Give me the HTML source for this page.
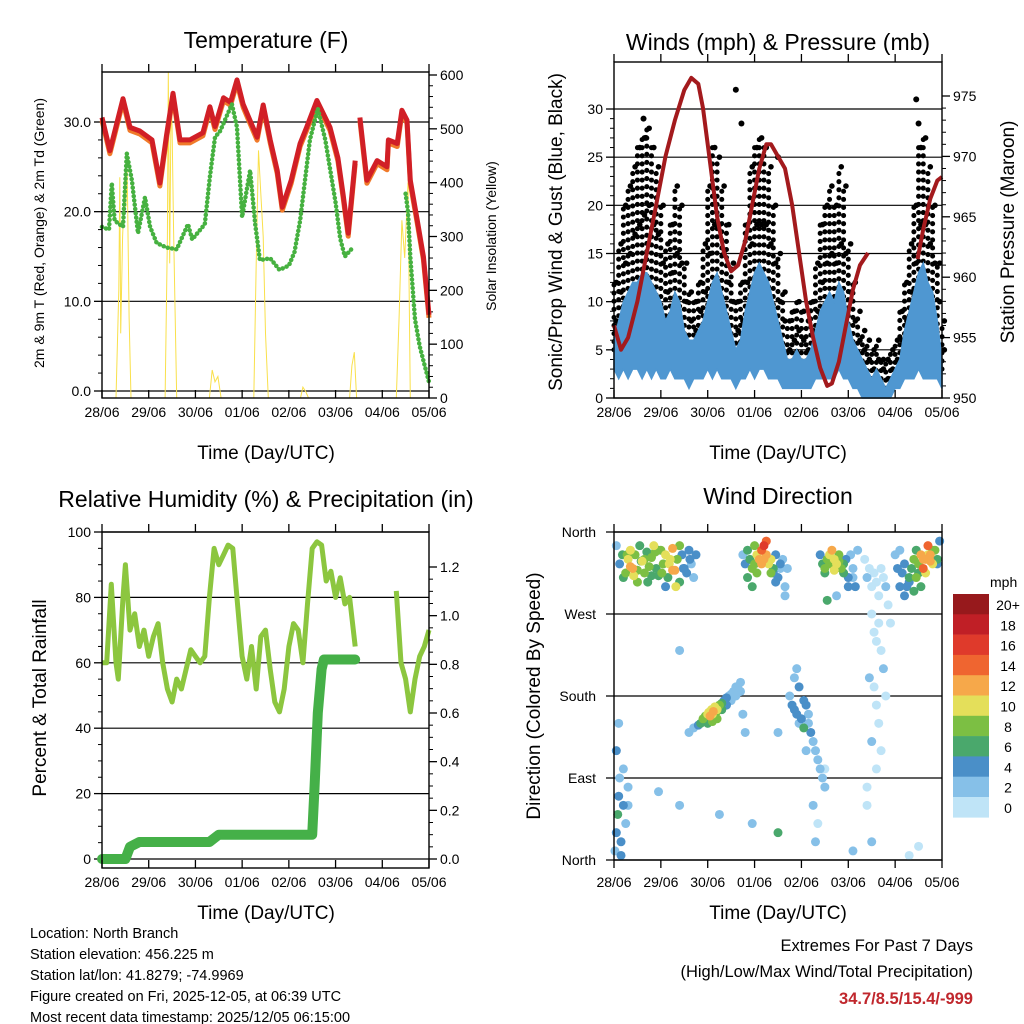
<!DOCTYPE html>
<html><head><meta charset="utf-8"><style>
html,body{margin:0;padding:0;background:#fff;}
svg{display:block;font-family:"Liberation Sans",Arial,sans-serif;}
</style></head><body>
<svg id="c" width="1024" height="1024" viewBox="0 0 1024 1024" xmlns="http://www.w3.org/2000/svg">
<rect width="1024" height="1024" fill="#fff"/>
<text x="266" y="48" font-size="23" text-anchor="middle">Temperature (F)</text>
<text x="778" y="50" font-size="23" text-anchor="middle">Winds (mph) &amp; Pressure (mb)</text>
<text x="266" y="507" font-size="23" text-anchor="middle">Relative Humidity (%) &amp; Precipitation (in)</text>
<text x="778" y="504" font-size="23" text-anchor="middle">Wind Direction</text>
<text x="266" y="459" font-size="19" text-anchor="middle">Time (Day/UTC)</text>
<text x="778" y="459" font-size="19" text-anchor="middle">Time (Day/UTC)</text>
<text x="266" y="919" font-size="19" text-anchor="middle">Time (Day/UTC)</text>
<text x="778" y="919" font-size="19" text-anchor="middle">Time (Day/UTC)</text>
<text transform="translate(44,233) rotate(-90)" font-size="14" text-anchor="middle">2m &amp; 9m T (Red, Orange) &amp; 2m Td (Green)</text>
<text transform="translate(496,236) rotate(-90)" font-size="14" text-anchor="middle">Solar Insolation (Yellow)</text>
<text transform="translate(562,232) rotate(-90)" font-size="19" text-anchor="middle">Sonic/Prop Wind &amp; Gust (Blue, Black)</text>
<text transform="translate(1014,232) rotate(-90)" font-size="19" text-anchor="middle">Station Pressure (Maroon)</text>
<text transform="translate(46,698) rotate(-90)" font-size="19" text-anchor="middle">Percent &amp; Total Rainfall</text>
<text transform="translate(540,696) rotate(-90)" font-size="19" text-anchor="middle">Direction (Colored By Speed)</text>
<g font-size="14.5">
<text x="30" y="938">Location: North Branch</text>
<text x="30" y="959">Station elevation: 456.225 m</text>
<text x="30" y="980">Station lat/lon: 41.8279; -74.9969</text>
<text x="30" y="1001">Figure created on Fri, 2025-12-05, at 06:39 UTC</text>
<text x="30" y="1022">Most recent data timestamp: 2025/12/05 06:15:00</text>
</g>
<g font-size="16.5" text-anchor="end">
<text x="973" y="951">Extremes For Past 7 Days</text>
<text x="973" y="977">(High/Low/Max Wind/Total Precipitation)</text>
<text x="973" y="1004" fill="#c0272d" font-weight="bold">34.7/8.5/15.4/-999</text>
</g>
</svg>
<script>
// ---------- DATA ----------
const dayLabels=["28/06","29/06","30/06","01/06","02/06","03/06","04/06","05/06"];
const tempTicks=[0,10,20,30];
const solarTicks=[0,100,200,300,400,500,600];
const windTicks=[0,5,10,15,20,25,30];
const presTicks=[950,955,960,965,970,975];
const rhTicks=[0,20,40,60,80,100];
const rainTicks=[0,0.2,0.4,0.6,0.8,1.0,1.2];
const dirLabels=["North","East","South","West","North"];
const tempT1=[0,0.17,0.3,0.45,0.6,0.81,1.07,1.24,1.38,1.52,1.67,1.88,2.16,2.31,2.42,2.6,2.75,2.89,3.02,3.32,3.45,3.6,3.75,3.86,4.05,4.24,4.38,4.6,4.88,5.05,5.16,5.27,5.42];
const tempV1=[30.5,26.8,29.5,32.6,29.4,29,28,23.2,28.5,33.2,28,28,28.8,31.7,29.5,32.7,32.2,34.7,32,28.3,31.9,28,24.6,20.5,23.5,27.6,29.4,32.4,29.4,26,22,17.6,25.7];
const tempT2=[5.52,5.67,5.89,6.1,6.13,6.32,6.42,6.53,6.6,6.75,6.88,7.0];
const tempV2=[30.5,23.5,25.7,25,28,27.6,31.3,30.2,23.5,19,15,8.5];
const tdT1=[0,0.15,0.21,0.27,0.45,0.53,0.64,0.77,0.92,1.03,1.17,1.38,1.6,1.84,1.93,2.2,2.31,2.42,2.53,2.78,2.89,3.0,3.17,3.28,3.38,3.6,3.8,4.0,4.12,4.24,4.45,4.62,4.78,5.0,5.1,5.2,5.37];
const tdV1=[18.3,18,23.2,19,18.3,26.5,23.5,17.6,21.6,18.3,16.5,16,15.8,18.6,16.9,18.6,23.9,28.3,29,32,29.4,19.4,24.6,18.6,14.6,14.8,13.5,14,15.5,19,28,31.5,28,21,17,15,16];
const tdT2=[6.5,6.55,6.6,6.7,6.8,6.9,7.0];
const tdV2=[22,20,15,8,5,3,1];
const solT=[0.3,0.36,0.38,0.4,0.44,0.48,0.51,0.54,0.58,0.62,1.35,1.4,1.42,1.45,1.48,1.5,1.53,1.56,1.6,2.3,2.36,2.42,2.48,2.55,3.25,3.3,3.35,3.4,3.45,3.5,3.56,4.25,4.3,4.36,4.42,5.3,5.35,5.4,5.45,6.3,6.36,6.42,6.48,6.55,6.6];
const solV=[0,200,410,120,300,380,355,420,150,0,0,300,605,250,560,500,320,180,0,0,52,30,40,0,0,250,460,380,300,120,0,0,20,12,0,0,60,85,0,0,150,330,260,400,0];
const gustHi=[12,16,20,22,24,26,27,28,26,24,20,16,18,22,20,14,11,10,12,16,22,26,25,22,18,14,10,12,18,24,26,27,26,24,20,15,11,8,9,10,9,8,10,14,18,20,22,20,24,22,16,12,9,7,6,5,6,4,4,5,6,9,12,16,20,26,27,24,20,14,8];
const gustMid=[8,11,14,15,17,18,19,20,18,17,14,11,13,15,14,10,8,7,9,11,15,18,18,15,12,10,7,8,12,16,18,18,18,16,14,10,8,5,6,7,6,5,7,9,12,14,15,14,16,15,11,8,6,5,4,3,4,3,2,3,4,6,8,11,14,18,18,16,14,10,5];
const gustLo=[5,6,7,8,9,10,10,11,10,9,8,6,7,8,7,5,4,4,5,6,8,10,10,8,7,5,4,5,7,9,10,10,10,9,8,6,4,3,3,4,3,3,4,5,7,8,8,8,9,8,6,5,4,3,2,2,2,2,1,2,2,3,5,6,8,10,10,9,8,6,3];
const windHi=[6,8,10,11,12,12,13,13,12,11,10,8,9,11,10,7,6,6,7,8,10,12,13,11,9,7,5,6,9,11,13,14,13,12,10,8,6,4,4,5,4,4,5,7,9,10,11,10,12,11,8,6,5,4,3,2,3,2,1,2,3,4,7,9,11,13,14,12,11,8,4];
const windLo=[3,2,3,2,3,3,2,3,2,3,2,2,3,2,2,2,1,2,2,2,3,2,3,2,2,2,1,2,2,3,2,3,3,2,2,2,1,1,1,1,1,1,1,2,2,2,2,2,3,2,2,1,1,0,0,0,0,0,0,0,1,1,2,2,2,3,2,2,2,2,1];
const gustOutT=[0.63,0.68,2.6,2.72,3.5,6.45,6.5];
const gustOutV=[29,27,32,28.5,25,31,28.5];
const presT1=[0,0.15,0.3,0.5,0.7,0.9,1.1,1.3,1.5,1.65,1.8,1.9,2.0,2.1,2.2,2.35,2.5,2.65,2.8,2.95,3.1,3.25,3.35,3.5,3.65,3.8,3.95,4.1,4.25,4.4,4.55,4.65,4.8,4.95,5.1,5.25,5.42];
const presV1=[956,954,955,958,962,966,970,973,975.5,976.5,976,974,971,968,965,962,960.5,961,963,966,969,971,971,970,969,966,962,958,955,952.5,951,951.2,953,956,959,961,962];
const presT2=[6.48,6.6,6.75,6.9,7.0];
const presV2=[961.5,964,966.5,968,968.3];
const rhT1=[0,0.1,0.2,0.3,0.35,0.45,0.5,0.6,0.7,0.8,0.9,1.0,1.1,1.2,1.3,1.4,1.5,1.6,1.7,1.8,1.9,2.0,2.1,2.2,2.3,2.4,2.5,2.6,2.7,2.8,2.9,3.0,3.1,3.2,3.3,3.4,3.5,3.6,3.7,3.8,3.9,4.0,4.1,4.2,4.3,4.4,4.5,4.6,4.7,4.8,4.9,5.0,5.1,5.2,5.3,5.42];
const rhV1=[60,60,84,60,55,80,90,70,75,65,70,62,68,72,60,52,48,55,52,58,64,62,60,62,80,95,90,93,96,95,78,62,55,65,52,68,70,58,48,45,52,65,72,70,60,78,95,97,96,85,88,80,86,78,80,65];
const rhT2=[6.3,6.4,6.5,6.6,6.7,6.8,6.9,7.0];
const rhV2=[82,60,55,45,55,62,65,70];
const rainT=[0,0.5,0.6,0.8,2.3,2.5,4.5,4.55,4.62,4.7,4.75,5.42];
const rainV=[0,0,0.05,0.07,0.07,0.1,0.1,0.3,0.6,0.78,0.82,0.82];
// wind direction scatter
const dirT=[0.05,0.12,0.18,0.25,0.3,0.35,0.4,0.45,0.5,0.55,0.6,0.65,0.7,0.75,0.8,0.85,0.9,0.95,1.0,1.05,1.1,1.15,1.2,1.25,1.3,1.35,1.4,1.45,1.5,1.55,1.6,1.65,1.7,1.75,0.2,0.35,0.5,0.65,0.8,0.95,1.1,1.25,1.4,0.28,0.42,0.58,0.72,0.88,1.02,1.18,1.32,1.48,1.62,
2.75,2.8,2.85,2.9,2.95,3.0,3.05,3.1,3.15,3.2,3.25,3.3,3.35,3.4,3.45,3.5,3.55,3.6,3.65,3.7,2.85,2.95,3.05,3.15,3.25,3.35,3.45,3.55,3.65,3.0,3.2,3.4,
4.4,4.45,4.5,4.55,4.6,4.65,4.7,4.75,4.8,4.85,4.9,4.95,5.0,5.05,5.1,5.15,5.2,4.5,4.6,4.7,4.8,4.9,5.0,5.1,4.55,4.75,
5.35,5.4,5.45,5.5,5.55,5.6,5.65,5.7,5.75,5.8,5.85,5.9,5.5,5.55,5.6,5.65,5.7,5.45,5.55,5.6,5.65,5.75,5.8,5.5,5.6,5.7,5.4,5.5,
6.0,6.05,6.1,6.15,6.2,6.25,6.3,6.35,6.4,6.45,6.5,6.55,6.6,6.65,6.7,6.75,6.8,6.85,6.9,6.95,6.1,6.2,6.3,6.4,6.5,6.6,6.7,6.8,6.9,6.45,6.55,6.65,6.75,
1.6,1.7,1.8,1.85,1.9,1.95,2.0,2.02,2.05,2.08,2.1,2.12,2.15,2.18,2.2,2.25,2.3,2.35,2.4,2.45,2.5,2.55,2.6,2.65,2.7,2.75,2.8,2.0,2.1,2.2,2.3,2.4,2.5,2.6,2.7,
3.75,3.8,3.85,3.9,3.95,4.0,4.05,4.1,4.15,4.2,4.25,4.3,4.35,4.4,4.45,4.5,3.85,3.95,4.05,4.15,4.25,4.35,3.9,4.1,4.3,4.5,
0.02,0.05,0.08,0.1,0.12,0.15,0.2,0.25,0.3,0.05,0.1,0.15,0.2,0.3,
0.95,1.4,1.4,3.5,5.1,5.4,3.5,6.3,6.5,2.25,2.95];
const dirDeg=[345,325,335,315,330,340,320,335,318,345,328,315,338,322,332,345,320,312,340,325,335,310,330,342,318,330,305,335,320,315,340,325,310,335,310,322,305,330,312,340,300,318,345,335,312,328,305,338,315,325,300,320,330,
335,325,340,330,320,345,335,330,340,345,335,325,330,320,335,310,325,330,300,320,310,300,315,325,350,315,305,320,290,325,330,315,
335,325,320,330,335,340,330,325,335,320,325,330,310,335,320,300,340,315,325,318,328,315,300,310,285,290,
330,310,320,300,315,305,290,320,310,300,280,260,270,250,240,260,230,200,190,170,150,210,180,130,100,120,60,20,
335,320,340,315,325,300,310,320,330,340,325,335,320,330,345,335,325,340,330,350,300,290,305,295,315,330,335,340,325,310,300,315,328,
140,145,148,150,155,158,160,162,158,165,160,163,168,162,165,170,172,175,178,180,182,185,190,188,195,160,140,150,152,155,165,170,175,180,185,
180,170,165,160,150,155,145,170,160,140,130,120,110,100,90,80,200,190,175,150,60,40,210,120,20,100,
10,30,50,70,90,20,60,40,80,120,150,5,100,60,
75,60,230,140,10,80,30,5,15,50,40];
const dirSpd=[3,5,7,9,11,10,13,8,9,7,10,8,6,9,8,10,7,6,8,9,10,7,11,12,13,9,7,5,4,5,4,3,3,4,6,12,9,8,7,6,5,12,8,8,10,7,6,9,8,10,11,5,4,
3,4,6,7,8,9,10,12,15,16,13,11,10,7,5,4,4,3,3,2,6,7,8,12,14,9,4,3,2,8,13,5,
4,6,8,9,10,12,11,10,9,8,7,5,4,3,3,4,3,6,8,10,9,6,4,3,7,3,
1,2,1,0,1,0,1,0,1,2,1,1,0,1,0,1,1,2,1,0,1,2,1,2,1,0,1,2,
3,4,3,4,4,5,6,7,8,6,9,12,14,13,15,12,11,9,6,4,4,4,5,6,7,13,10,9,4,8,6,11,12,
2,3,4,6,8,9,10,11,12,11,10,12,11,9,10,8,6,5,4,3,3,3,2,2,3,2,2,7,9,8,6,4,3,3,2,
3,4,5,4,3,5,6,4,3,4,2,3,2,2,3,2,3,4,5,2,2,1,2,3,2,1,
3,4,6,5,3,4,5,3,2,4,3,4,2,3,
2,3,2,2,2,1,6,1,1,3,2];
const cbLabels=["20+","18","16","14","12","10","8","6","4","2","0"];
const cbColors=["#97191c","#c01f26","#df3a2b","#ef6530","#f6a84a","#e4df5a","#7cbf43","#4aa86c","#4a8fc8","#86c0e8","#bfe4f7"];

// ---------- DRAW ----------
const svg=document.getElementById('c');
const NS="http://www.w3.org/2000/svg";
function mk(tag,attrs,parent){const e=document.createElementNS(NS,tag);for(const k in attrs)e.setAttribute(k,attrs[k]);(parent||svg).appendChild(e);return e;}
function lin(d0,d1,r0,r1){return v=>r0+(v-d0)/(d1-d0)*(r1-r0);}
function pathD(ts,vs,sx,sy){return ts.map((t,i)=>(i?"L":"M")+sx(t).toFixed(1)+","+sy(vs[i]).toFixed(1)).join("");}
function xAxis(g,sx,bottom,top){
  for(let d=0;d<=7;d++){
    const x=sx(d);
    const tk=mk('line',{x1:x,x2:x,y1:bottom,y2:bottom-8,stroke:'#000','stroke-width':1.3},g);
    
    
    const tt=mk('line',{x1:x,x2:x,y1:top,y2:top-8,stroke:'#000','stroke-width':1.3},g);
    
    
    const lb=mk('text',{x:x,y:bottom+19,'font-size':14,'text-anchor':'middle'},g);
    lb.textContent=dayLabels[d];
    
    
  }
}
function yTicks(g,ticks,sy,xEdge,dir,fmt,grid,x0,x1,minor){
  ticks.forEach(v=>{
    const y=sy(v);
    if(grid){const gl=mk('line',{x1:x0,x2:x1,y1:y,y2:y,stroke:'#000','stroke-width':1.2},g);
      
      }
    const tk=mk('line',{x1:xEdge,x2:xEdge+dir*8,y1:y,y2:y,stroke:'#000','stroke-width':1.3},g);
    
    
    const lb=mk('text',{x:xEdge+dir*11,y:y+5,'font-size':14,'text-anchor':dir<0?'end':'start'},g);
    lb.textContent=fmt(v);
    
    
  });
  if(minor){for(let i=0;i<ticks.length-1;i++){const a=ticks[i],b=ticks[i+1];for(let k=1;k<minor;k++){const y=sy(a+(b-a)*k/minor);
    const m=mk('line',{x1:xEdge,x2:xEdge+dir*4,y1:y,y2:y,stroke:'#000','stroke-width':1},g);
    
    }}}
}
function frame(g,x0,y0,x1,y1){const r=mk('rect',{x:x0,y:y0,width:x1-x0,height:y1-y0,fill:'none',stroke:'#000','stroke-width':1.4},g);
  
  }

// Panel 1: temperature
(function(){
  const g=mk('g',{});
  
  
  const X0=102,X1=429,Y0=72,Y1=398;
  const sx=lin(0,7,X0,X1), sy=lin(0,30,391,122), sr=lin(0,600,398,75);
  yTicks(g,tempTicks,sy,X0,-1,v=>v.toFixed(1),true,X0,X1,5);
  yTicks(g,solarTicks,sr,X1,1,v=>String(v),false,0,0,5);
  const sol=mk('path',{d:pathD(solT,solV,sx,sr),fill:'none',stroke:'#f9e04b','stroke-width':1},g);
  
  
  [[tempT1,tempV1],[tempT2,tempV2]].forEach(([t,v])=>{
    const o=mk('path',{d:pathD(t,v,sx,sy),fill:'none',stroke:'#f07a2a','stroke-width':5,'stroke-linejoin':'round',transform:'translate(0,3)'},g);
    
    
    const r=mk('path',{d:pathD(t,v,sx,sy),fill:'none',stroke:'#d11f26','stroke-width':5,'stroke-linejoin':'round'},g);
    
    
  });
  [[tdT1,tdV1],[tdT2,tdV2]].forEach(([t,v])=>{
    const p=mk('path',{d:pathD(t,v,sx,sy),fill:'none',stroke:'#46b140','stroke-width':4.5,'stroke-linecap':'round','stroke-dasharray':'0.1 4.2'},g);
    
    
  });
  frame(g,X0,Y0,X1,Y1);
  xAxis(g,sx,Y1,Y0);
})();

// Panel 2: winds & pressure
(function(){
  const g=mk('g',{});
  
  
  const X0=614,X1=942,Y0=62,Y1=398;
  const sx=lin(0,7,X0,X1), sy=lin(0,30,398,109), sp=lin(950,975,398,96);
  yTicks(g,windTicks,sy,X0,-1,v=>String(v),true,X0,X1,5);
  yTicks(g,presTicks,sp,X1,1,v=>String(v),false,0,0,5);
  const ts=gustHi.map((_,i)=>i*0.1);
  ts.forEach((t,i)=>{
    const x=sx(t);
    const c=mk('line',{x1:x,x2:x,y1:sy(gustLo[i]),y2:sy(gustHi[i]),stroke:'#000','stroke-width':5,'stroke-linecap':'round','stroke-dasharray':'0.1 8'},g);
    
    
    [gustHi[i],gustMid[i]].forEach(v=>{
      const d=mk('circle',{cx:sx(t+0.05),cy:sy(v),r:2.8,fill:'#000'},g);
      
      
    });
  });
  gustOutT.forEach((t,i)=>{
    const d=mk('circle',{cx:sx(t),cy:sy(gustOutV[i]),r:3,fill:'#000'},g);
    
    
  });
  let d="";
  ts.forEach((t,i)=>{d+=(i?"L":"M")+sx(t).toFixed(1)+","+sy(windHi[i]).toFixed(1);});
  for(let i=ts.length-1;i>=0;i--){d+="L"+sx(ts[i]).toFixed(1)+","+sy(windLo[i]).toFixed(1);}
  const w=mk('path',{d:d+"Z",fill:'#4f97d1',stroke:'#4f97d1','stroke-width':1.5},g);
  
  
  [[presT1,presV1],[presT2,presV2]].forEach(([t,v])=>{
    const p=mk('path',{d:pathD(t,v,sx,sp),fill:'none',stroke:'#a31a1d','stroke-width':4,'stroke-linejoin':'round'},g);
    
    
  });
  frame(g,X0,Y0,X1,Y1);
  xAxis(g,sx,Y1,Y0);
})();

// Panel 3: humidity & rain
(function(){
  const g=mk('g',{});
  
  
  const X0=102,X1=429,Y0=532,Y1=868;
  const sx=lin(0,7,X0,X1), sy=lin(0,100,859,532), sr=lin(0,1.2,859,567);
  yTicks(g,rhTicks,sy,X0,-1,v=>String(v),true,X0,X1,4);
  yTicks(g,rainTicks,sr,X1,1,v=>v.toFixed(1),false,0,0,4);
  [[rhT1,rhV1],[rhT2,rhV2]].forEach(([t,v])=>{
    const p=mk('path',{d:pathD(t,v,sx,sy),fill:'none',stroke:'#8cc63f','stroke-width':5,'stroke-linejoin':'round'},g);
    
    
  });
  const r=mk('path',{d:pathD(rainT,rainV,sx,sr),fill:'none',stroke:'#45b048','stroke-width':10,'stroke-linejoin':'round','stroke-linecap':'round'},g);
  
  
  frame(g,X0,Y0,X1,Y1);
  xAxis(g,sx,Y1,Y0);
})();

// Panel 4: wind direction
(function(){
  const g=mk('g',{});
  
  
  const X0=614,X1=942,Y0=532,Y1=860;
  const sx=lin(0,7,X0,X1), sy=lin(0,360,860,532);
  dirLabels.forEach((l,i)=>{
    const y=sy(i*90);
    const gl=mk('line',{x1:X0-8,x2:X1,y1:y,y2:y,stroke:'#000','stroke-width':1.2},g);
    
    
    const t=mk('text',{x:X0-18,y:y+5,'font-size':14,'text-anchor':'end'},g);
    t.textContent=l;
    
    
  });
  const order=dirT.map((_,i)=>i).sort((a,b)=>dirSpd[a]-dirSpd[b]);
  order.forEach(i=>{
    const s=dirSpd[i];
    const idx=Math.max(0,Math.min(10,10-Math.floor(s/2)));
    const c=mk('circle',{cx:sx(dirT[i]),cy:sy(dirDeg[i]),r:4.5,fill:cbColors[idx]},g);
    
    
  });
  frame(g,X0,Y0,X1,Y1);
  xAxis(g,sx,Y1+8,Y0);
  const cb=mk('g',{},g);
  
  
  const u=mk('text',{x:990,y:587,'font-size':14},cb);
  u.textContent="mph";
  
  
  cbLabels.forEach((l,i)=>{
    const y=594+i*20.3;
    const r=mk('rect',{x:953,y:y,width:36,height:20.6,fill:cbColors[i]},cb);
    
    
    const t=mk('text',{x:1008,y:y+16,'font-size':14,'text-anchor':'middle'},cb);
    t.textContent=l;
    
    
  });
})();
</script>
</body></html>
